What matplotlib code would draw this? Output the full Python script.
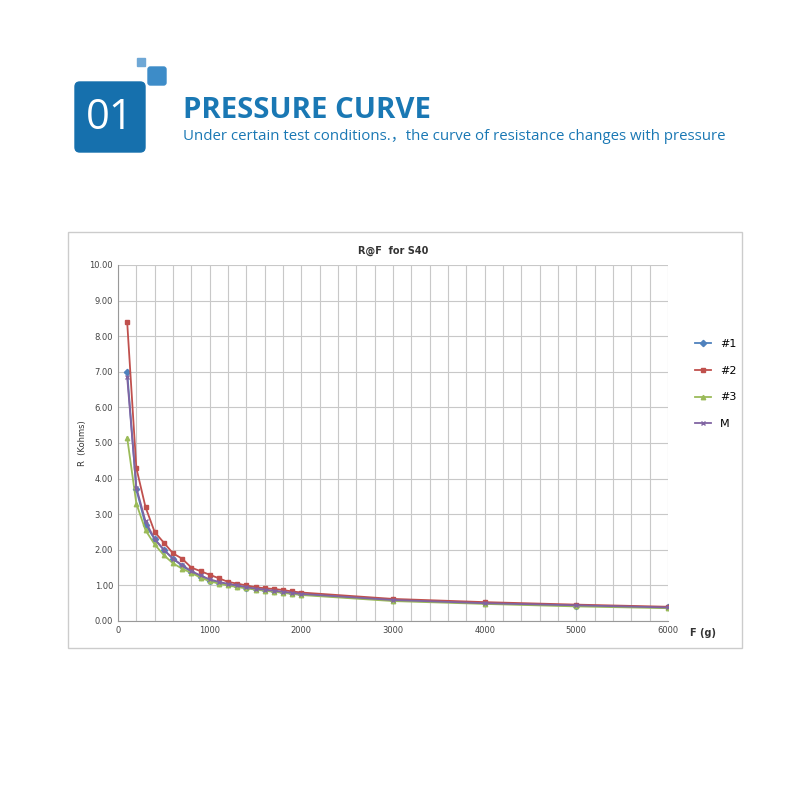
import matplotlib
matplotlib.use("Agg")
import matplotlib.pyplot as plt
from matplotlib.patches import FancyBboxPatch, Rectangle

F = [100,200,300,400,500,600,700,800,900,1000,1100,1200,1300,1400,1500,1600,1700,1800,1900,2000,3000,4000,5000,6000]
r1 = [7.0,3.7,2.7,2.3,2.0,1.75,1.55,1.38,1.25,1.12,1.08,1.03,0.98,0.94,0.9,0.87,0.84,0.81,0.78,0.75,0.58,0.5,0.43,0.38]
r2 = [8.4,4.3,3.2,2.5,2.2,1.9,1.75,1.5,1.4,1.3,1.2,1.1,1.05,1.0,0.95,0.92,0.9,0.87,0.83,0.8,0.62,0.53,0.46,0.40]
r3 = [5.15,3.3,2.55,2.15,1.85,1.62,1.47,1.35,1.22,1.12,1.05,1.0,0.95,0.92,0.88,0.85,0.82,0.79,0.76,0.73,0.56,0.48,0.41,0.36]
rM = [6.85,3.75,2.8,2.3,2.0,1.75,1.57,1.4,1.28,1.17,1.1,1.04,1.0,0.95,0.91,0.88,0.85,0.82,0.79,0.76,0.59,0.5,0.44,0.38]
labels = ["#1","#2","#3","M"]
colors = ["#4f81bd","#c0504d","#9bbb59","#8064a2"]
markers = ["D","s","^","x"]

fig = plt.figure(figsize=(8,8), dpi=100)
blue = "#1a78b4"
# header
fig.patches.append(FancyBboxPatch((75/800, 1-152/800), 70/800, 70/800, boxstyle="round,pad=0,rounding_size=0.006",
                                  transform=fig.transFigure, color="#1670ad"))
fig.patches.append(Rectangle((137/800, 1-66/800), 8/800, 8/800, transform=fig.transFigure, color="#6fa8d6"))
fig.patches.append(FancyBboxPatch((148/800, 1-85/800), 18/800, 18/800, boxstyle="round,pad=0,rounding_size=0.003",
                                  transform=fig.transFigure, color="#3d8cc8"))
fig.text(110/800, 1-118/800, "01", color="white", fontsize=30, ha="center", va="center", family="Open Sans")
fig.text(183/800, 1-110/800, "PRESSURE CURVE", color=blue, fontsize=21.2, fontweight="bold", va="center", family="Open Sans")
fig.text(183/800, 1-137/800, "Under certain test conditions.，the curve of resistance changes with pressure",
         color=blue, fontsize=10.8, va="center", family=["Open Sans","Noto Sans CJK SC"])
# chart frame
fig.patches.append(Rectangle((68/800, 1-648/800), 674/800, 416/800, transform=fig.transFigure,
                             facecolor="none", edgecolor="#cccccc", lw=1))

ax = fig.add_axes([118/800, 1-621/800, 550/800, 356/800])
ax.set_zorder(2)
ax.patch.set_alpha(0)
for r, lab, c, m in zip([r1,r2,r3,rM], labels, colors, markers):
    ax.plot(F, r, color=c, marker=m, ms=3.2, lw=1.3, label=lab)
ax.set_xlim(0, 6000)
ax.set_ylim(0, 10)
ax.set_xticks(range(0, 6001, 200), minor=True)
ax.set_xticks(range(0, 6001, 1000))
ax.set_yticks(range(0, 11))
ax.set_yticklabels([f"{v:.2f}" for v in range(0, 11)])
ax.grid(True, which="both", color="#c8c8c8", lw=0.8)
ax.tick_params(which="both", length=0, labelsize=6, colors="#444444")
for s in ax.spines.values():
    s.set_visible(False)
ax.spines["left"].set_visible(True); ax.spines["left"].set_color("#999999")
ax.spines["bottom"].set_visible(True); ax.spines["bottom"].set_color("#999999")
ax.set_title("R@F  for S40", fontsize=7, fontweight="bold", color="#333333", pad=8)
ax.set_ylabel("R  (Kohms)", fontsize=6, color="#333333", labelpad=2)
fig.text(690/800, 1-633/800, "F (g)", fontsize=7, fontweight="bold", color="#333333", va="center")
ax.legend(loc="upper left", bbox_to_anchor=(1.03, 0.82), frameon=False, fontsize=8, handlelength=1.5, labelspacing=1.5)
fig.savefig("out.png", dpi=100)
